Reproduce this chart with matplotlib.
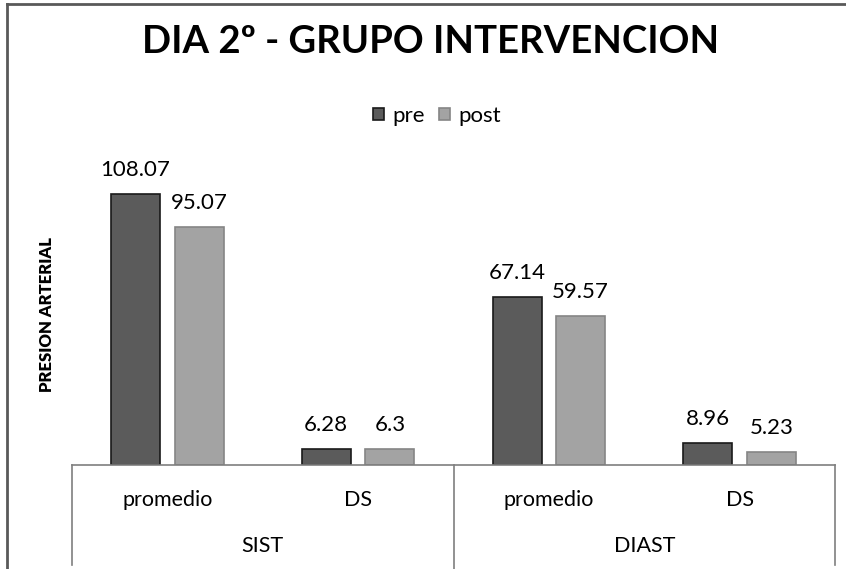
import numpy as np
import matplotlib.pyplot as plt
from matplotlib.lines import Line2D

plt.rcParams['font.family'] = ['Lato', 'DejaVu Sans']

groups = ['SIST', 'DIAST']
measures = ['promedio', 'DS']
pre_vals = [108.07, 6.28, 67.14, 8.96]
post_vals = [95.07, 6.3, 59.57, 5.23]
pre_labels = ['108.07', '6.28', '67.14', '8.96']
post_labels = ['95.07', '6.3', '59.57', '5.23']

pre_color = '#5b5b5b'
post_color = '#a3a3a3'

fig = plt.figure(figsize=(8.46, 5.69), dpi=100)
ax = fig.add_axes([72 / 846, 1 - 465 / 569, (835 - 72) / 846, 301 / 569])

x = np.arange(len(pre_vals))
w = 0.257
off = 0.167
b1 = ax.bar(x - off, pre_vals, w, color=pre_color, edgecolor='#1a1a1a', linewidth=1.2, label='pre')
b2 = ax.bar(x + off, post_vals, w, color=post_color, edgecolor='#858585', linewidth=1.2, label='post')

for bars, labs in [(b1, pre_labels), (b2, post_labels)]:
    for r, t in zip(bars, labs):
        ax.annotate(t, (r.get_x() + r.get_width() / 2, r.get_height()),
                    xytext=(0, 10), textcoords='offset points',
                    ha='center', va='bottom', fontsize=16)

ax.set_xlim(-0.5, len(x) - 0.5)
ax.set_ylim(0, 120)
ax.set_yticks([])
ax.set_xticks([])
for s in ['top', 'right', 'left']:
    ax.spines[s].set_visible(False)
ax.spines['bottom'].set_color('#7f7f7f')
ax.spines['bottom'].set_linewidth(1.2)

# measure labels and group labels below the axis
for i, xi in enumerate(x):
    ax.annotate(measures[i % 2], (xi, 0), xytext=(0, -25), textcoords='offset points',
                ha='center', va='center', fontsize=15.5, annotation_clip=False)
for g, name in enumerate(groups):
    ax.annotate(name, (2 * g + 0.5, 0), xytext=(0, -58), textcoords='offset points',
                ha='center', va='center', fontsize=15.5, annotation_clip=False)

# separators
tr = ax.get_xaxis_transform()
for xs, yb in [(-0.5, -100 / 301), (1.5, -104 / 301), (3.5, -100 / 301)]:
    ax.add_line(Line2D([xs, xs], [0, yb], transform=tr, color='#7f7f7f', lw=1.2, clip_on=False))

ax.set_ylabel('PRESION ARTERIAL', fontsize=12, fontweight='heavy', labelpad=12)

ax.legend(loc='center', bbox_to_anchor=((437 - 72) / 763, (465 - 116) / 301),
          ncol=2, frameon=False,
          fontsize=16, handlelength=0.5, handleheight=0.5, handletextpad=0.4, columnspacing=0.6)

fig.text(431 / 846, 1 - 42 / 569, 'DIA 2º - GRUPO INTERVENCION', ha='center', va='center',
         fontsize=27.5, fontweight='bold')

# outer chart frame
fig.add_artist(Line2D([7 / 846, 7 / 846], [0, 1 - 4 / 569], color='#595959', lw=2))
fig.add_artist(Line2D([7 / 846, 1], [1 - 4 / 569, 1 - 4 / 569], color='#595959', lw=2))

fig.savefig('out.png', dpi=100)
